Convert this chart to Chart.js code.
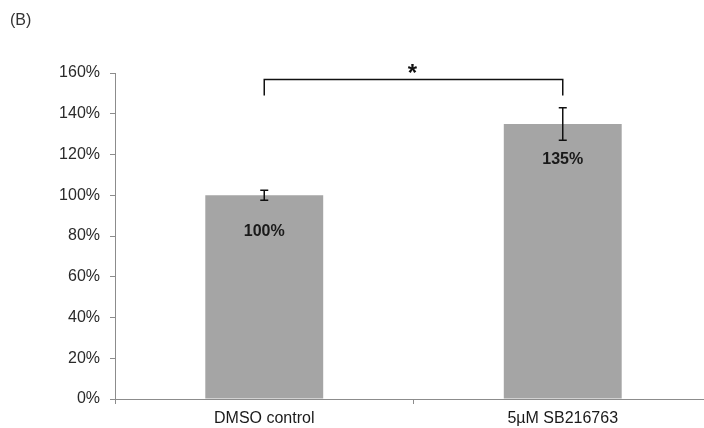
<!DOCTYPE html>
<html>
<head>
<meta charset="utf-8">
<script src="https://cdn.jsdelivr.net/npm/chart.js@4/dist/chart.umd.min.js"></script>
<style>
  html, body { margin: 0; padding: 0; background: #fff; overflow: hidden; }
  #wrap { width: 704px; height: 428px; overflow: hidden; }
</style>
</head>
<body>
<div id="wrap"><canvas id="c" width="720" height="428"></canvas></div>
<script>
// Relative viability (% of DMSO control)
const categories = ['DMSO control', '5µM SB216763'];
const values = [100, 135];
const errors = [2.5, 8];
const valueLabels = ['100%', '135%'];
const yTicks = [0, 20, 40, 60, 80, 100, 120, 140, 160];
const panelLabel = '(B)';
// significance bracket (in % units)
const bracketTop = 157;
const bracketFoot = 149;
const sigMark = '*';

const FONT = '"Liberation Sans", Arial, sans-serif';

const overlay = {
  id: 'overlay',
  afterDatasetsDraw(chart) {
    const ctx = chart.ctx;
    const x = chart.scales.x, y = chart.scales.y;
    ctx.save();

    // error bars
    ctx.strokeStyle = '#111';
    ctx.lineWidth = 1.5;
    values.forEach((v, i) => {
      const cx = x.getPixelForValue(i);
      const yt = y.getPixelForValue(v + errors[i]);
      const yb = y.getPixelForValue(v - errors[i]);
      ctx.beginPath();
      ctx.moveTo(cx, yt); ctx.lineTo(cx, yb);
      ctx.moveTo(cx - 4, yt); ctx.lineTo(cx + 4, yt);
      ctx.moveTo(cx - 4, yb); ctx.lineTo(cx + 4, yb);
      ctx.stroke();
    });

    // value labels inside bars
    ctx.fillStyle = '#1a1a1a';
    ctx.font = 'bold 16px ' + FONT;
    ctx.textAlign = 'center';
    ctx.textBaseline = 'middle';
    values.forEach((v, i) => {
      ctx.fillText(valueLabels[i], x.getPixelForValue(i), y.getPixelForValue(v) + 36);
    });

    // significance bracket
    const x0 = x.getPixelForValue(0), x1 = x.getPixelForValue(1);
    const yT = Math.round(y.getPixelForValue(bracketTop)) + 0.5;
    const yF = y.getPixelForValue(bracketFoot);
    ctx.lineWidth = 1.5;
    ctx.beginPath();
    ctx.moveTo(x0, yF); ctx.lineTo(x0, yT); ctx.lineTo(x1, yT); ctx.lineTo(x1, yF);
    ctx.stroke();
    ctx.font = 'bold 24px ' + FONT;
    ctx.fillStyle = '#111';
    ctx.textBaseline = 'alphabetic';
    ctx.fillText(sigMark, (x0 + x1) / 2 - 1, yT + 1);

    // panel label
    ctx.font = '16px ' + FONT;
    ctx.fillStyle = '#333';
    ctx.textAlign = 'left';
    ctx.textBaseline = 'middle';
    ctx.fillText(panelLabel, 10, 21);
    ctx.restore();
  }
};

new Chart(document.getElementById('c'), {
  type: 'bar',
  data: {
    labels: categories,
    datasets: [{
      data: values,
      backgroundColor: '#a5a5a5',
      borderWidth: 0,
      barPercentage: 0.395,
      categoryPercentage: 1
    }]
  },
  options: {
    responsive: false,
    animation: false,
    devicePixelRatio: 1,
    layout: { padding: { top: 73, right: 8, bottom: 0, left: 0 } },
    plugins: { legend: { display: false }, tooltip: { enabled: false } },
    scales: {
      x: {
        grid: { display: true, drawOnChartArea: false, drawTicks: true, tickLength: 5, color: '#8c8c8c', offset: true },
        border: { display: true, color: '#8c8c8c', width: 1 },
        ticks: { color: '#1a1a1a', font: { family: FONT, size: 16 }, padding: 5, maxRotation: 0 },
        afterFit(s) { s.height = 29; }
      },
      y: {
        min: 0, max: 160,
        afterBuildTicks(s) { s.ticks = yTicks.map(v => ({ value: v })); },
        grid: { display: true, drawOnChartArea: false, drawTicks: true, tickLength: 5, color: '#8c8c8c' },
        border: { display: true, color: '#8c8c8c', width: 1 },
        ticks: { color: '#2a2a2a', font: { family: FONT, size: 16 }, padding: 10, callback: v => v + '%' },
        afterFit(s) { s.width = 115; }
      }
    }
  },
  plugins: [overlay]
});
</script>
</body>
</html>
